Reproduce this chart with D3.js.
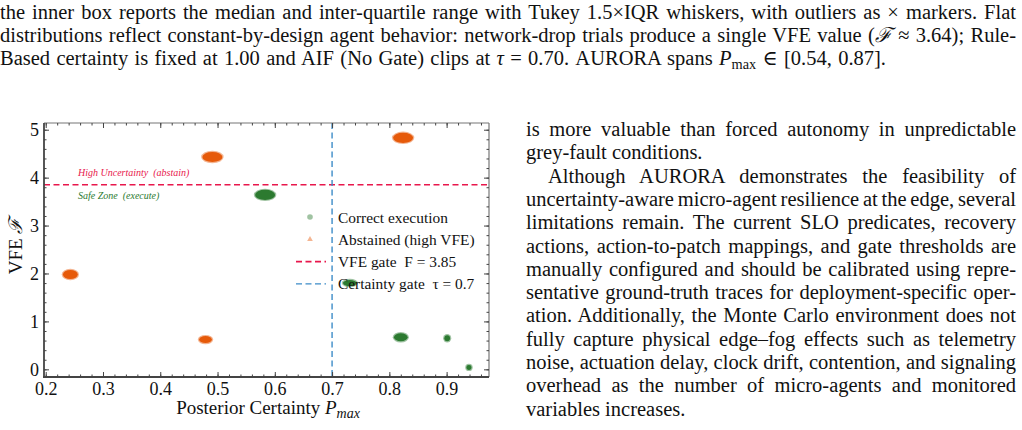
<!DOCTYPE html>
<html>
<head>
<meta charset="utf-8">
<script src="https://cdn.jsdelivr.net/npm/d3@7"></script>
<style>
  body { margin: 0; width: 1022px; height: 430px; background: #fff; overflow: hidden; position: relative;
         font-family: "Liberation Serif", "DejaVu Serif", serif; color: #111; }
  .ln { position: absolute; font-size: 20.5px; line-height: 23px; white-space: nowrap; }
  .ln span.w { display: inline-block; }
  .m { font-style: italic; }
  sub { font-size: 70%; vertical-align: -4px; line-height: 0; }
  svg { position: absolute; left: 0; top: 0; }
</style>
</head>
<body>
<div id="text"></div>
<div id="chart"></div>
<script>
// ---- data ----
const xTicks = [0.2, 0.3, 0.4, 0.5, 0.6, 0.7, 0.8, 0.9];
const yTicks = [0, 1, 2, 3, 4, 5];

// trial clusters: centre (Pmax, VFE) and half-spread in data units
const abstainX  = [0.491, 0.824, 0.243, 0.479];
const abstainY  = [4.43, 4.83, 1.98, 0.62];
const abstainSx = [0.0175, 0.0175, 0.013, 0.0113];
const abstainSy = [0.105, 0.105, 0.094, 0.073];

const correctX  = [0.583, 0.731, 0.820, 0.901, 0.939];
const correctY  = [3.64, 1.80, 0.67, 0.65, 0.04];
const correctSx = [0.0175, 0.012, 0.012, 0.005, 0.0044];
const correctSy = [0.105, 0.063, 0.084, 0.063, 0.052];

const vfeGate = 3.85;
const tauGate = 0.7;

const legendLabels = ["Correct execution", "Abstained (high VFE)", "VFE gate  F = 3.85", "Certainty gate  \u03c4 = 0.7"];

// ---- page text ----
const topLines = [
  'the inner box reports the median and inter-quartile range with Tukey 1.5\u00d7IQR whiskers, with outliers as \u00d7 markers. Flat',
  'distributions reflect constant-by-design agent behavior: network-drop trials produce a single VFE value (<span class="m">\u2131</span> \u2248 3.64); Rule-',
  'Based certainty is fixed at 1.00 and AIF (No Gate) clips at <span class="m">\u03c4</span> = 0.70. AURORA spans <span class="m">P</span><sub>max</sub> \u2208 [0.54, 0.87].'
];
const colLines = [
  'is more valuable than forced autonomy in unpredictable',
  'grey-fault conditions.',
  'Although AURORA demonstrates the feasibility of',
  'uncertainty-aware micro-agent resilience at the edge, several',
  'limitations remain. The current SLO predicates, recovery',
  'actions, action-to-patch mappings, and gate thresholds are',
  'manually configured and should be calibrated using repre-',
  'sentative ground-truth traces for deployment-specific oper-',
  'ation. Additionally, the Monte Carlo environment does not',
  'fully capture physical edge\u2013fog effects such as telemetry',
  'noise, actuation delay, clock drift, contention, and signaling',
  'overhead as the number of micro-agents and monitored',
  'variables increases.'
];

const textDiv = d3.select("#text");
function addLine(html, left, top, width) {
  const div = textDiv.append("div").attr("class", "ln")
    .style("left", left + "px").style("top", top + "px");
  const span = div.append("span").attr("class", "w").html(html);
  if (width) {
    const natural = span.node().getBoundingClientRect().width;
    const gaps = (span.node().textContent.match(/ /g) || []).length;
    if (gaps > 0) span.style("word-spacing", ((width - natural) / gaps) + "px");
  }
}
// last top line is ragged, but its TeX math runs wider than plain text
topLines.forEach((t, i) => addLine(t, 0, 1 + i * 23, i < topLines.length - 1 ? 1016 : 886));
colLines.forEach((t, i) => {
  const indent = i === 2 ? 22 : 0;
  const last = (i === 1 || i === colLines.length - 1);
  addLine(t, 526 + indent, 118 + i * 23.3, last ? 0 : 490 - indent);
});

// ---- chart ----
const plot = { left: 44, right: 489, top: 123, bottom: 377 };
const orange = "#e65a0a";
const green = "#2c7a30";
const red = "#e8174c";
const blue = "#3d8cc8";

const svg = d3.select("#chart").append("svg").attr("width", 1022).attr("height", 430);

const x = d3.scaleLinear().domain([0.197, 0.974]).range([plot.left, plot.right]);
const y = d3.scaleLinear().domain([-0.16, 5.14]).range([plot.bottom, plot.top]);

svg.append("defs").append("filter").attr("id", "soft")
  .append("feGaussianBlur").attr("stdDeviation", 0.7);

// gate lines
svg.append("line")
  .attr("x1", plot.left).attr("x2", plot.right)
  .attr("y1", y(vfeGate)).attr("y2", y(vfeGate))
  .attr("stroke", red).attr("stroke-width", 1.6).attr("stroke-dasharray", "6,3.5");
svg.append("line")
  .attr("x1", x(tauGate)).attr("x2", x(tauGate))
  .attr("y1", plot.top).attr("y2", plot.bottom)
  .attr("stroke", blue).attr("stroke-width", 1.4).attr("stroke-dasharray", "6,3.5");

// region notes
svg.append("text").attr("x", 78).attr("y", y(vfeGate) - 9)
  .attr("font-size", 10).attr("font-style", "italic").attr("fill", red)
  .attr("xml:space", "preserve").text("High Uncertainty  (abstain)");
svg.append("text").attr("x", 78).attr("y", y(vfeGate) + 14)
  .attr("font-size", 10).attr("font-style", "italic").attr("fill", green)
  .attr("xml:space", "preserve").text("Safe Zone  (execute)");

// clusters
function drawClusters(xs, ys, sxs, sys, color) {
  const d = xs.map((v, i) => ({ x: v, y: ys[i], sx: sxs[i], sy: sys[i] }));
  const g = svg.append("g");
  g.selectAll(".halo").data(d).enter().append("ellipse")
    .attr("cx", p => x(p.x)).attr("cy", p => y(p.y))
    .attr("rx", p => x(p.x + p.sx) - x(p.x) + 1.2)
    .attr("ry", p => y(p.y) - y(p.y + p.sy) + 1.2)
    .attr("fill", color).attr("opacity", 0.45).attr("filter", "url(#soft)");
  g.selectAll(".core").data(d).enter().append("ellipse")
    .attr("cx", p => x(p.x)).attr("cy", p => y(p.y))
    .attr("rx", p => x(p.x + p.sx) - x(p.x))
    .attr("ry", p => y(p.y) - y(p.y + p.sy))
    .attr("fill", color);
}
drawClusters(abstainX, abstainY, abstainSx, abstainSy, orange);
drawClusters(correctX, correctY, correctSx, correctSy, green);

// frame
const frame = svg.append("g");
frame.append("line").attr("x1", plot.left).attr("x2", plot.right).attr("y1", plot.top).attr("y2", plot.top)
  .attr("stroke", "#777").attr("stroke-width", 1.2);
frame.append("line").attr("x1", plot.right).attr("x2", plot.right).attr("y1", plot.top).attr("y2", plot.bottom)
  .attr("stroke", "#777").attr("stroke-width", 1.2);
frame.append("line").attr("x1", plot.left).attr("x2", plot.left).attr("y1", plot.top).attr("y2", plot.bottom)
  .attr("stroke", "#444").attr("stroke-width", 1.8);
frame.append("line").attr("x1", plot.left - 1).attr("x2", plot.right).attr("y1", plot.bottom).attr("y2", plot.bottom)
  .attr("stroke", "#444").attr("stroke-width", 1.8);

// axes (inward ticks on all sides)
const xMinor = d3.range(20, 98, 2).map(v => v / 100);
const yMinor = d3.range(0, 26, 1).map(v => v / 5);

function styleAxis(g) {
  g.select(".domain").remove();
  g.selectAll("line").attr("stroke", "#444");
  g.selectAll("text").attr("font-family", "Liberation Serif, serif").attr("font-size", 18).attr("fill", "#111");
}

svg.append("g").attr("transform", `translate(0,${plot.bottom})`)
  .call(d3.axisBottom(x).tickValues(xMinor).tickFormat("").tickSize(-2.5)).call(styleAxis);
svg.append("g").attr("transform", `translate(0,${plot.bottom})`)
  .call(d3.axisBottom(x).tickValues(xTicks).tickFormat(d3.format(".1f")).tickSize(-5).tickPadding(5)).call(styleAxis);
svg.append("g").attr("transform", `translate(0,${plot.top})`)
  .call(d3.axisTop(x).tickValues(xMinor).tickFormat("").tickSize(-2.5)).call(styleAxis);
svg.append("g").attr("transform", `translate(0,${plot.top})`)
  .call(d3.axisTop(x).tickValues(xTicks).tickFormat("").tickSize(-5)).call(styleAxis);

svg.append("g").attr("transform", `translate(${plot.left},0)`)
  .call(d3.axisLeft(y).tickValues(yMinor).tickFormat("").tickSize(-2.5)).call(styleAxis);
svg.append("g").attr("transform", `translate(${plot.left},0)`)
  .call(d3.axisLeft(y).tickValues(yTicks).tickFormat(d3.format("d")).tickSize(-5).tickPadding(5)).call(styleAxis);
svg.append("g").attr("transform", `translate(${plot.right},0)`)
  .call(d3.axisRight(y).tickValues(yMinor).tickFormat("").tickSize(-2.5)).call(styleAxis);
svg.append("g").attr("transform", `translate(${plot.right},0)`)
  .call(d3.axisRight(y).tickValues(yTicks).tickFormat("").tickSize(-5)).call(styleAxis);

// axis titles
const xt = svg.append("text").attr("x", 268).attr("y", 414)
  .attr("text-anchor", "middle").attr("font-size", 19).attr("fill", "#111");
xt.append("tspan").text("Posterior Certainty ");
xt.append("tspan").attr("font-style", "italic").text("P");
xt.append("tspan").attr("font-style", "italic").attr("font-size", 14).attr("dy", 4).text("max");

const yt = svg.append("text").attr("transform", `translate(22,246) rotate(-90)`)
  .attr("text-anchor", "middle").attr("font-size", 19).attr("fill", "#111");
yt.append("tspan").text("VFE ");
yt.append("tspan").attr("font-style", "italic").text("\u2131");

// legend
const lg = svg.append("g").attr("transform", "translate(296,217)");
const rowH = 22.3;
lg.append("circle").attr("cx", 14).attr("cy", 0).attr("r", 2.8).attr("fill", green).attr("opacity", 0.45);
lg.append("path").attr("d", d3.symbol(d3.symbolTriangle, 14)())
  .attr("transform", `translate(14,${rowH})`).attr("fill", orange).attr("opacity", 0.45);
lg.append("line").attr("x1", 0).attr("x2", 30).attr("y1", rowH * 2).attr("y2", rowH * 2)
  .attr("stroke", red).attr("stroke-width", 1.6).attr("stroke-dasharray", "6,3.5");
lg.append("line").attr("x1", 0).attr("x2", 30).attr("y1", rowH * 3).attr("y2", rowH * 3)
  .attr("stroke", blue).attr("stroke-width", 1.4).attr("stroke-dasharray", "6,3.5");
lg.selectAll(".lt").data(legendLabels).enter().append("text")
  .attr("x", 42).attr("y", (d, i) => i * rowH + 5.5)
  .attr("font-size", 15.4).attr("fill", "#111").attr("xml:space", "preserve")
  .text(d => d);
</script>
</body>
</html>
